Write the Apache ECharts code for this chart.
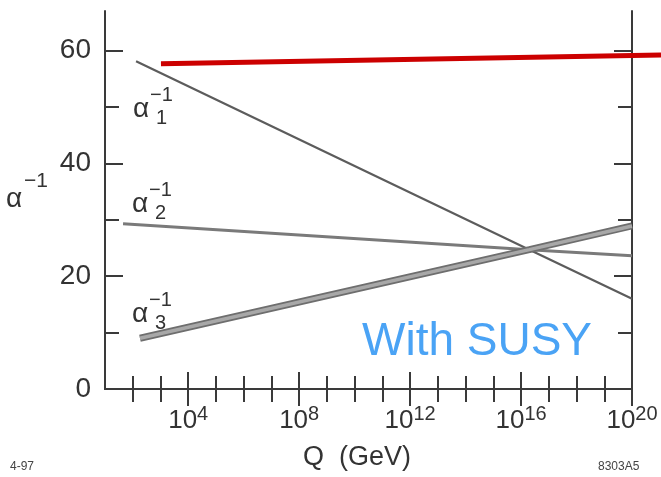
<!DOCTYPE html>
<html>
<head>
<meta charset="utf-8">
<script src="https://cdn.jsdelivr.net/npm/echarts@6/dist/echarts.min.js"></script>
<style>
html, body { margin: 0; padding: 0; background: #fff; }
#chart { width: 661px; height: 477px; }
</style>
</head>
<body>
<div id="chart"></div>
<script>
// x = log10(Q / GeV), y = inverse coupling
var alpha1Inv = [[2.12, 58.1], [16.3, 24.7], [20, 16.0]];
var alpha2Inv = [[1.65, 29.3], [16.3, 24.7], [20, 23.6]];
var alpha3Inv = [[2.26, 9.0], [16.3, 24.7], [20, 28.9]];
var gutPoint = [[16.3, 24.7]];
// red line runs past the frame, up to the picture edge (x ~ 21.07)
var redLine = [[3.02, 57.65], [21.07, 59.2]];

var xMinorTicks = [2, 3, 5, 6, 7, 9, 10, 11, 13, 14, 15, 17, 18, 19];
var xMajorTicks = [4, 8, 12, 16, 20];
var yMajorTicks = [0, 20, 40, 60];
var yMinorTicks = [10, 30, 50];

var font = 'Liberation Sans, Arial, sans-serif';
var axisColor = '#3a3a3a';

var chart = echarts.init(document.getElementById('chart'));

function xAxisDef(pos, ticks, len, showLine, showLabel) {
    return {
        type: 'value', position: pos, min: 1, max: 20, gridIndex: 0,
        axisLine: { show: showLine, lineStyle: { color: axisColor, width: 2 } },
        axisTick: { show: true, inside: true, length: len, customValues: ticks,
            lineStyle: { color: axisColor, width: 2 } },
        axisLabel: {
            show: showLabel, customValues: ticks, margin: 15,
            formatter: function (v) { return '{b|10}{s|' + v + '}'; },
            rich: {
                b: { fontSize: 26, fontFamily: font, color: '#333' },
                s: { fontSize: 20, fontFamily: font, color: '#333', padding: [0, 0, 14, 0] }
            }
        },
        splitLine: { show: false }
    };
}

function yAxisDef(pos, ticks, len, showLine, showLabel) {
    return {
        type: 'value', position: pos, min: 0, max: 67, gridIndex: 0,
        axisLine: { show: showLine, lineStyle: { color: axisColor, width: 2 } },
        axisTick: { show: true, inside: true, length: len, customValues: ticks,
            lineStyle: { color: axisColor, width: 2 } },
        axisLabel: {
            show: showLabel, customValues: ticks, margin: 14,
            fontSize: 28, fontFamily: font, color: '#333', padding: [14, 0, 0, 0]
        },
        splitLine: { show: false }
    };
}

function alphaLabel(x, y, sub) {
    return [
        { type: 'text', left: x, top: y - 15,
          style: { text: 'α', fontSize: 28, fontFamily: font, fill: '#333' } },
        { type: 'text', left: x + 17, top: y - 25,
          style: { text: '−1', fontSize: 20, fontFamily: font, fill: '#333' } },
        { type: 'text', left: x + 23, top: y - 2,
          style: { text: sub, fontSize: 20, fontFamily: font, fill: '#333' } }
    ];
}

var graphics = []
    .concat(alphaLabel(133, 110, '1'))
    .concat(alphaLabel(132, 205, '2'))
    .concat(alphaLabel(132, 315, '3'))
    .concat([
        { type: 'text', left: 6, top: 185,
          style: { text: 'α', fontSize: 28, fontFamily: font, fill: '#333' } },
        { type: 'text', left: 24, top: 171,
          style: { text: '−1', fontSize: 21, fontFamily: font, fill: '#333' } },
        { type: 'text', left: 303, top: 444,
          style: { text: 'Q  (GeV)', fontSize: 27, fontFamily: font, fill: '#333' } },
        { type: 'text', left: 10, top: 461,
          style: { text: '4-97', fontSize: 12, fontFamily: font, fill: '#444' } },
        { type: 'text', left: 598, top: 461,
          style: { text: '8303A5', fontSize: 12, fontFamily: font, fill: '#444' } },
        { type: 'text', left: 362, top: 319,
          style: { text: 'With SUSY', fontSize: 46, fontFamily: font, fill: '#4aa3f5' } }
    ]);

var hiddenAxis = { show: false, axisLine: { show: false }, axisTick: { show: false },
    axisLabel: { show: false }, splitLine: { show: false } };

var option = {
    animation: false,
    backgroundColor: '#fff',
    grid: [
        { left: 105, right: 29, top: 11, bottom: 88 },
        // same scale, but reaching the right edge of the picture
        { left: 105, right: 0, top: 11, bottom: 88 }
    ],
    xAxis: [
        xAxisDef('bottom', xMinorTicks, 13, true, false),
        xAxisDef('bottom', xMajorTicks, 17, false, true),
        xAxisDef('top', xMinorTicks, 13, true, false),
        xAxisDef('top', xMajorTicks, 17, false, false),
        Object.assign({ type: 'value', gridIndex: 1, min: 1, max: 21.07 }, hiddenAxis)
    ],
    yAxis: [
        yAxisDef('left', yMajorTicks, 18, true, true),
        yAxisDef('left', yMinorTicks, 14, false, false),
        yAxisDef('right', yMajorTicks, 18, true, false),
        yAxisDef('right', yMinorTicks, 14, false, false),
        Object.assign({ type: 'value', gridIndex: 1, min: 0, max: 67 }, hiddenAxis)
    ],
    series: [
        { type: 'line', data: alpha1Inv, showSymbol: false,
          lineStyle: { color: '#5c5c5c', width: 2.2 } },
        { type: 'line', data: alpha2Inv, showSymbol: false,
          lineStyle: { color: '#7a7a7a', width: 3 } },
        { type: 'line', data: alpha3Inv, showSymbol: false,
          lineStyle: { color: '#6e6e6e', width: 7 } },
        { type: 'line', data: alpha3Inv, showSymbol: false,
          lineStyle: { color: '#a8a8a8', width: 3.5 } },
        { type: 'scatter', data: gutPoint, symbolSize: 6,
          itemStyle: { color: '#222' } },
        { type: 'line', data: redLine, showSymbol: false, clip: false,
          xAxisIndex: 4, yAxisIndex: 4,
          lineStyle: { color: '#cc0000', width: 5 } }
    ],
    graphic: graphics
};
chart.setOption(option);
</script>
</body>
</html>
